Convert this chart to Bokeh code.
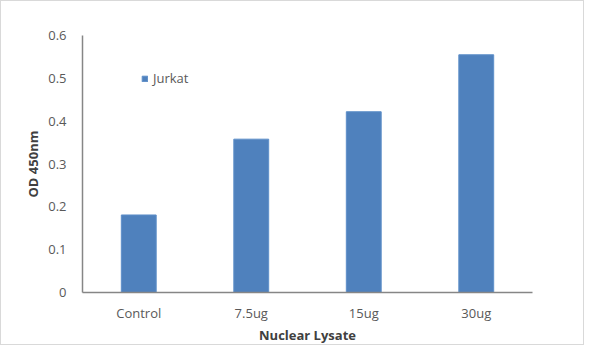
from bokeh.plotting import figure
from bokeh.models import ColumnDataSource, Legend, LegendItem, FactorRange, Range1d, FixedTicker
from bokeh.embed import file_html
from bokeh.resources import INLINE

categories = ["Control", "7.5ug", "15ug", "30ug"]
jurkat = [0.181, 0.358, 0.422, 0.555]
y_ticks = [0, 0.1, 0.2, 0.3, 0.4, 0.5, 0.6]

src = ColumnDataSource(dict(cat=categories, val=jurkat))

p = figure(width=584, height=345, output_backend="svg", toolbar_location=None,
           x_range=FactorRange(*categories, range_padding=0),
           y_range=Range1d(0, 0.6),
           min_border_left=81, min_border_right=53, min_border_top=34, min_border_bottom=53)
p.styles = {"border": "1px solid #d9d9d9", "box-sizing": "border-box"}

r = p.vbar(x="cat", top="val", width=0.31, source=src,
           fill_color="#4F81BD", line_color="#5E8FC9", line_width=1)

p.xgrid.visible = False
p.ygrid.visible = False
p.outline_line_color = None

font = "Open Sans"
for ax in (p.xaxis[0], p.yaxis[0]):
    ax.axis_line_color = "#868686"
    ax.axis_line_width = 1.5
    ax.major_tick_line_color = None
    ax.minor_tick_line_color = None
    ax.major_label_text_font = font
    ax.major_label_text_font_size = "13px"
    ax.major_label_text_color = "#595959"
    ax.axis_label_text_font = font
    ax.axis_label_text_font_size = "13px"
    ax.axis_label_text_font_style = "bold"
    ax.axis_label_text_color = "#404040"

p.yaxis[0].ticker = FixedTicker(ticks=y_ticks)
p.yaxis[0].major_label_standoff = 10
p.yaxis[0].axis_label = "OD 450nm"
p.yaxis[0].axis_label_standoff = 3
p.xaxis[0].axis_label = "Nuclear Lysate"
p.xaxis[0].major_label_standoff = 5
p.xaxis[0].axis_label_standoff = 1

legend = Legend(items=[LegendItem(label="Jurkat", renderers=[r])],
                location=(59, 205), glyph_width=7, glyph_height=7,
                label_height=14, label_standoff=5, padding=0, spacing=0, margin=0,
                border_line_color=None, background_fill_alpha=0,
                label_text_font=font, label_text_font_size="13px",
                label_text_color="#595959")
p.add_layout(legend, "center")

open("out.html", "w").write(file_html(p, INLINE))
